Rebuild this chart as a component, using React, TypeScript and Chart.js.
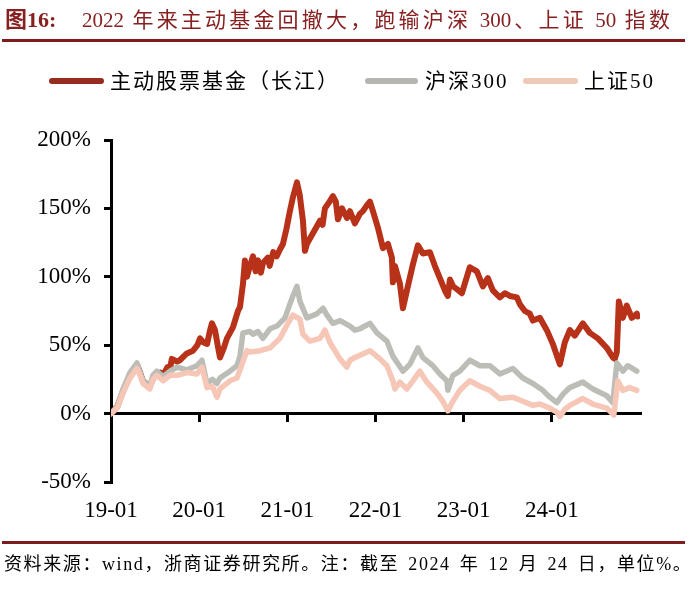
import React, { useEffect, useRef } from "react";
import { Chart, registerables } from "chart.js";

Chart.register(...registerables);

const seriesNames = ["主动股票基金（长江）", "沪深300", "上证50"];
const tickYears = [2019, 2020, 2021, 2022, 2023, 2024];
const tickLabels = ["19-01", "20-01", "21-01", "22-01", "23-01", "24-01"];
const yTickValues = [-50, 0, 50, 100, 150, 200];

// 主动股票基金（长江） — x in decimal years, y in %
const fundX = [
  2019.0, 2019.07, 2019.14, 2019.22, 2019.3, 2019.33, 2019.36, 2019.44, 2019.48, 2019.52,
  2019.56, 2019.59, 2019.64, 2019.67, 2019.69, 2019.75, 2019.78, 2019.86, 2019.93, 2019.98,
  2020.01, 2020.05, 2020.09, 2020.12, 2020.145, 2020.18, 2020.21, 2020.236, 2020.28, 2020.315,
  2020.383, 2020.44, 2020.463, 2020.497, 2020.519, 2020.542, 2020.576, 2020.61, 2020.64, 2020.667,
  2020.7, 2020.723, 2020.78, 2020.8, 2020.84, 2020.88, 2020.916, 2020.95, 2020.99, 2021.029,
  2021.063, 2021.109, 2021.14, 2021.177, 2021.2, 2021.222, 2021.256, 2021.3, 2021.37, 2021.4,
  2021.426, 2021.48, 2021.517, 2021.55, 2021.574, 2021.62, 2021.676, 2021.71, 2021.766, 2021.823,
  2021.857, 2021.9, 2021.937, 2021.971, 2022.027, 2022.084, 2022.141, 2022.186, 2022.197, 2022.22,
  2022.277, 2022.311, 2022.356, 2022.424, 2022.481, 2022.537, 2022.617, 2022.673, 2022.73, 2022.787,
  2022.821, 2022.844, 2022.88, 2022.923, 2022.98, 2023.07, 2023.15, 2023.218, 2023.274, 2023.331,
  2023.41, 2023.467, 2023.524, 2023.603, 2023.637, 2023.694, 2023.75, 2023.785, 2023.864, 2023.943,
  2024.011, 2024.091, 2024.147, 2024.204, 2024.261, 2024.351, 2024.431, 2024.522, 2024.624, 2024.692,
  2024.714, 2024.737, 2024.76, 2024.805, 2024.85, 2024.907, 2024.964, 2024.975,
];
const fundY = [
  0, 5, 17, 28, 35, 30, 24, 20, 26, 29,
  30, 28, 34, 33, 40, 38, 39, 44, 46, 50,
  55, 52, 51, 60, 66, 61, 50, 41, 48, 55,
  63, 75, 78, 95, 112, 100, 108, 115, 104, 112,
  103, 110, 114, 108, 118, 115, 120, 124, 135, 148,
  158, 169, 160, 141, 119, 124, 128, 133, 141, 138,
  150, 155, 159, 155, 142, 150, 143, 148, 139, 146,
  148, 152, 155, 148, 136, 121, 124, 114, 96, 108,
  95, 77, 90, 109, 123, 117, 118, 108, 99, 90,
  86, 98, 93, 91, 88, 107, 104, 93, 99, 90,
  85, 88, 86, 85, 80, 75, 73, 68, 70, 61,
  51, 36, 52, 61, 57, 66, 59, 55, 48, 41,
  40, 45, 82, 70, 79, 70, 73, 71,
];

// 沪深300
const hs300X = [
  2019.0, 2019.07, 2019.136, 2019.215, 2019.295, 2019.33, 2019.363, 2019.44, 2019.476, 2019.52,
  2019.59, 2019.67, 2019.75, 2019.86, 2019.975, 2020.032, 2020.088, 2020.15, 2020.202, 2020.236,
  2020.349, 2020.429, 2020.463, 2020.497, 2020.576, 2020.61, 2020.667, 2020.723, 2020.803, 2020.882,
  2020.973, 2021.029, 2021.063, 2021.109, 2021.143, 2021.222, 2021.3, 2021.336, 2021.404, 2021.45,
  2021.517, 2021.6, 2021.71, 2021.766, 2021.823, 2021.937, 2022.016, 2022.129, 2022.197, 2022.311,
  2022.39, 2022.481, 2022.537, 2022.651, 2022.73, 2022.81, 2022.821, 2022.878, 2022.957, 2023.07,
  2023.184, 2023.297, 2023.41, 2023.558, 2023.671, 2023.785, 2023.898, 2023.977, 2024.057, 2024.125,
  2024.17, 2024.204, 2024.351, 2024.465, 2024.624, 2024.692, 2024.737, 2024.805, 2024.862, 2024.964,
];
const hs300Y = [
  0, 5, 18, 30, 37, 30, 24, 20, 28, 31,
  27, 31, 34, 32, 35, 39, 22, 25, 22, 26,
  31, 35, 42, 59, 60, 58, 60, 55, 62, 64,
  70, 80, 86, 93, 82, 70, 72, 73, 77, 72,
  66, 68, 64, 61, 62, 66, 59, 53, 42, 31,
  36, 48, 41, 35, 29, 24, 17, 28, 31, 39,
  35, 35, 29, 33, 26, 22, 17, 12, 8, 14,
  17, 19, 23, 18, 13, 8, 37, 31, 35, 31,
];

// 上证50
const sz50X = [
  2019.0, 2019.07, 2019.136, 2019.215, 2019.295, 2019.33, 2019.363, 2019.44, 2019.476, 2019.52,
  2019.59, 2019.67, 2019.75, 2019.86, 2019.975, 2020.032, 2020.088, 2020.15, 2020.202, 2020.236,
  2020.349, 2020.429, 2020.497, 2020.542, 2020.576, 2020.69, 2020.803, 2020.916, 2021.007, 2021.063,
  2021.143, 2021.177, 2021.256, 2021.37, 2021.426, 2021.483, 2021.596, 2021.676, 2021.71, 2021.766,
  2021.937, 2022.05, 2022.129, 2022.197, 2022.22, 2022.277, 2022.356, 2022.424, 2022.503, 2022.583,
  2022.696, 2022.764, 2022.821, 2022.878, 2022.957, 2023.07, 2023.184, 2023.297, 2023.41, 2023.558,
  2023.671, 2023.785, 2023.864, 2023.977, 2024.057, 2024.091, 2024.147, 2024.204, 2024.351, 2024.465,
  2024.624, 2024.703, 2024.748, 2024.805, 2024.884, 2024.964,
];
const sz50Y = [
  0, 4, 15, 26, 33, 28, 22, 18, 25, 28,
  24, 28, 28, 30, 29, 34, 19, 20, 12, 18,
  24, 26, 38, 46, 45, 46, 48, 55, 66, 72,
  69, 58, 53, 55, 61, 52, 40, 34, 39, 41,
  46, 40, 35, 24, 18, 23, 18, 24, 31, 23,
  15, 9, 2, 9, 17, 24, 20, 17, 11, 12,
  9, 6, 7, 4, 1, -2, 3, 6, 11, 7,
  4, -1, 24, 17, 19, 17,
];

const RED = "#b8321a";
const GRAY = "#bdbdb8";
const PINK = "#f6c6b6";
const TITLE_RED = "#872020";
const RULE_RED = "#7c1c1c";
const FONT = "'Liberation Serif', 'Times New Roman', 'Noto Sans CJK SC', serif";
const CJK_FONT = "'Liberation Serif', 'Noto Sans CJK SC', serif";

export default function App() {
  const ref = useRef<HTMLCanvasElement>(null);

  useEffect(() => {
    if (!ref.current) return;
    const toPts = (xs: number[], ys: number[]) => xs.map((x, i) => ({ x, y: ys[i] }));
    const setXTicks = (scale: any) => {
      scale.ticks = tickYears.map((v) => ({ value: v }));
    };
    const tickFont = { family: FONT, size: 23 };
    const lineBase = {
      pointRadius: 0,
      tension: 0,
      borderJoinStyle: "round" as const,
      borderCapStyle: "round" as const,
    };
    const chart = new Chart(ref.current, {
      type: "line",
      data: {
        datasets: [
          { label: seriesNames[0], data: toPts(fundX, fundY), borderColor: RED, backgroundColor: RED, borderWidth: 6, order: 3, ...lineBase },
          { label: seriesNames[1], data: toPts(hs300X, hs300Y), borderColor: GRAY, backgroundColor: GRAY, borderWidth: 5.5, order: 2, ...lineBase },
          { label: seriesNames[2], data: toPts(sz50X, sz50Y), borderColor: PINK, backgroundColor: PINK, borderWidth: 5.5, order: 1, ...lineBase },
        ],
      },
      options: {
        animation: false,
        responsive: false,
        devicePixelRatio: 1,
        layout: { padding: { top: 140, left: 0, right: 60, bottom: 64 } },
        plugins: { legend: { display: false }, tooltip: { enabled: false } },
        scales: {
          x: {
            type: "linear",
            position: "bottom",
            min: 2019,
            max: 2025,
            afterBuildTicks: setXTicks,
            afterFit: (s: any) => {
              s.height = 50;
            },
            border: { display: false },
            grid: { display: false, drawTicks: false },
            ticks: {
              font: tickFont,
              color: "#000",
              padding: 15,
              autoSkip: false,
              maxRotation: 0,
              callback: (v: any) => {
                const i = tickYears.indexOf(Number(v));
                return i >= 0 ? tickLabels[i] : "";
              },
            },
          },
          x2: {
            type: "linear",
            axis: "x",
            position: { y: 0 },
            min: 2019,
            max: 2025,
            afterBuildTicks: setXTicks,
            border: { display: true, color: "#000", width: 3 },
            grid: {
              drawOnChartArea: false,
              drawTicks: true,
              tickLength: 7,
              tickColor: "#000",
              tickWidth: 3,
              color: "#000",
              lineWidth: 3,
            },
            ticks: { display: false },
          },
          y: {
            type: "linear",
            min: -50,
            max: 200,
            afterBuildTicks: (s: any) => {
              s.ticks = yTickValues.map((v) => ({ value: v }));
            },
            afterFit: (s: any) => {
              s.width = 111;
            },
            border: { display: true, color: "#000", width: 3 },
            grid: {
              drawOnChartArea: false,
              drawTicks: true,
              tickLength: 7,
              tickColor: "#000",
              tickWidth: 3,
              color: "#000",
              lineWidth: 3,
            },
            ticks: {
              font: tickFont,
              color: "#000",
              padding: 13,
              callback: (v: any) => `${v}%`,
            },
          },
        } as any,
      },
    });
    return () => chart.destroy();
  }, []);

  const abs = (s: React.CSSProperties): React.CSSProperties => ({ position: "absolute", margin: 0, whiteSpace: "nowrap", ...s });
  const legendText: React.CSSProperties = { top: 67, lineHeight: "28px", fontSize: 21, letterSpacing: 2, color: "#000", fontFamily: CJK_FONT };

  return (
    <div style={{ position: "absolute", left: 0, top: 0, width: 700, height: 596, background: "#fff", overflow: "hidden" }}>
      <canvas ref={ref} width={700} height={596} style={abs({ left: 0, top: 0, width: 700, height: 596 })} />
      <div style={abs({ left: 5, top: 6, lineHeight: "28px", fontSize: 22, fontWeight: "bold", color: TITLE_RED, fontFamily: CJK_FONT })}>
        图16:
      </div>
      <div
        style={abs({
          left: 82,
          top: 6,
          width: 588,
          lineHeight: "28px",
          fontSize: 21,
          color: TITLE_RED,
          fontFamily: CJK_FONT,
          whiteSpace: "normal",
          textAlign: "justify",
          textAlignLast: "justify",
        })}
      >
        2022 年来主动基金回撤大，跑输沪深 300、上证 50 指数
      </div>
      <div style={abs({ left: 2, top: 39, width: 683, height: 3, background: RULE_RED })} />

      <div style={abs({ left: 49, top: 78, width: 55, height: 6, background: "#962c1e", borderRadius: 3 })} />
      <div style={abs({ left: 110, ...legendText })}>{seriesNames[0]}</div>
      <div style={abs({ left: 365, top: 78, width: 53, height: 6, background: "#b5b5b2", borderRadius: 3 })} />
      <div style={abs({ left: 425, ...legendText })}>{seriesNames[1]}</div>
      <div style={abs({ left: 523, top: 78, width: 55, height: 6, background: "#f0c8b6", borderRadius: 3 })} />
      <div style={abs({ left: 584, ...legendText })}>{seriesNames[2]}</div>

      <div style={abs({ left: 2, top: 541, width: 683, height: 3, background: RULE_RED })} />
      <div
        style={abs({
          left: 4,
          top: 553,
          lineHeight: "22px",
          fontSize: 18,
          letterSpacing: 1.6,
          wordSpacing: 3,
          color: "#000",
          fontFamily: CJK_FONT,
        })}
      >
        资料来源：wind，浙商证券研究所。注：截至 2024 年 12 月 24 日，单位%。
      </div>
    </div>
  );
}
